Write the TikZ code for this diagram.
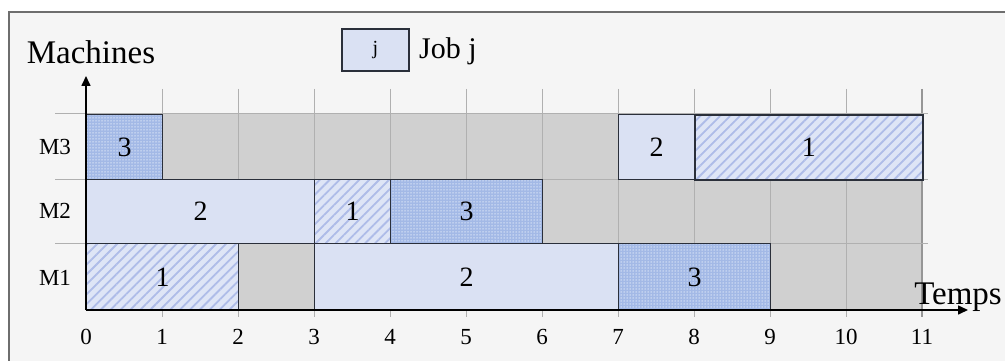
\documentclass[tikz,border=0pt]{standalone}
\usepackage{fontspec}
\setmainfont{Liberation Serif}
\usetikzlibrary{patterns.meta,arrows.meta}
\definecolor{bgc}{HTML}{F5F5F5}
\definecolor{framec}{HTML}{6E6E6E}
\definecolor{gapc}{HTML}{D0D0D0}
\definecolor{gridc}{HTML}{B0B0B0}
\definecolor{plainc}{HTML}{DAE1F3}
\definecolor{hatchbg}{HTML}{DEE5F6}
\definecolor{hatchln}{HTML}{AEBCE8}
\definecolor{dotbg}{HTML}{A3B9E6}
\definecolor{dotfg}{HTML}{DDE6F8}
\definecolor{boxc}{HTML}{2A2F3A}
\tikzset{
  jobbox/.style={draw=boxc, line width=1.3pt, anchor=north west, inner sep=0pt,
    font=\fontsize{28}{30}\selectfont, minimum height=#1},
  jobplain/.style={jobbox=#1, fill=plainc},
  jobhatch/.style={jobbox=#1, preaction={fill=hatchbg},
    pattern={Lines[angle=45,distance=7pt,line width=1.8pt]}, pattern color=hatchln},
  jobdot/.style={jobbox=#1, preaction={fill=dotbg},
    pattern={Dots[distance=3pt,radius=0.75pt]}, pattern color=dotfg},
  gridline/.style={draw=gridc, line width=1pt},
  axisline/.style={draw=black, line width=1.6pt, -{Triangle[length=10pt,width=9pt]}},
  ticklbl/.style={font=\fontsize{23}{25}\selectfont, inner sep=0pt},
  mlbl/.style={font=\fontsize{23}{25}\selectfont, inner sep=0pt},
  biglbl/.style={font=\fontsize{33}{35}\selectfont, inner sep=0pt, anchor=base},
}
\begin{document}
\begin{tikzpicture}[x=1pt,y=-1pt]
\useasboundingbox (0,0) rectangle (1005,361);
\fill[white] (0,0) rectangle (1005,361);
\draw[fill=bgc, draw=framec, line width=1.5pt] (9,12) rectangle (1020,380);
% idle background
\fill[gapc] (86,114) rectangle (922,310);
% grid
\foreach \t in {1,...,10} \draw[gridline] (86+76*\t,89) -- (86+76*\t,317);
\draw[draw=gridc!85!black, line width=1.4pt] (922,89) -- (922,317);
\foreach \yy in {114,179,243} \draw[gridline] (55,\yy) -- (928,\yy);
% M3 row
\node[jobdot=65pt, minimum width=76pt] (m3a) at (86,114) {3};
\node[jobplain=65pt, minimum width=76pt] (m3b) at (618,114) {2};
\node[jobhatch=65pt, minimum width=228pt] (m3c) at (694,114) {1};
% M2 row
\node[jobplain=64pt, minimum width=228pt] (m2a) at (86,179) {2};
\node[jobhatch=64pt, minimum width=76pt] (m2b) at (314,179) {1};
\node[jobdot=64pt, minimum width=152pt] (m2c) at (390,179) {3};
% M1 row
\node[jobhatch=67pt, minimum width=152pt] (m1a) at (86,243) {1};
\node[jobplain=67pt, minimum width=304pt] (m1b) at (314,243) {2};
\node[jobdot=67pt, minimum width=152pt] (m1c) at (618,243) {3};
% axes
\coordinate (O) at (86,310);
\coordinate (yend) at (86,76);
\coordinate (xend) at (968,310);
\draw[axisline] (O) -- (yend);
\draw[axisline] (O) -- (xend);
% tick labels
\foreach \t in {0,...,11} \node[ticklbl] (t\t) at (86+76*\t,337) {\t};
% machine labels
\node[mlbl] (lm3) at (55,147) {M3};
\node[mlbl] (lm2) at (55,211) {M2};
\node[mlbl] (lm1) at (55,278) {M1};
% axis titles
\node[biglbl] (ytitle) at (91,64) {Machines};
\node[biglbl] (xtitle) at (958,304) {Temps};
% legend
\node[draw=boxc, line width=1.3pt, fill=plainc, minimum width=67pt, minimum height=42pt,
  inner sep=0pt, font=\fontsize{20}{22}\selectfont] (leg) at (375.5,50) {j};
\node[font=\fontsize{30}{32}\selectfont, inner sep=0pt, anchor=base west] (legtxt) at (419,59) {Job j};
\end{tikzpicture}
\end{document}
